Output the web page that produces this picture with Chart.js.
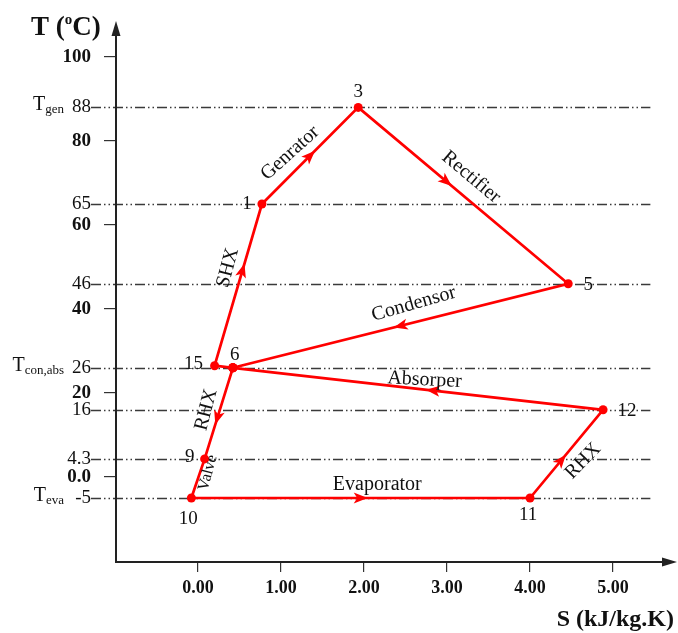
<!DOCTYPE html>
<html>
<head>
<meta charset="utf-8">
<script src="https://cdn.jsdelivr.net/npm/chart.js@4.4.1/dist/chart.umd.min.js"></script>
<style>
html,body{margin:0;padding:0;background:#fff;}
canvas{display:block;}
</style>
</head>
<body>
<canvas id="c" width="678" height="633"></canvas>
<script>
// ---- data ----
const stateNames  = ['15', '1', '3', '5', '6', '9', '10', '11', '12'];
const entropy     = [0.20, 0.77, 1.93, 4.46, 0.42, 0.08, -0.08, 4.00, 4.88];
const temperature = [26.5, 65, 88, 46, 26, 4.3, -5, -5, 16];

const highCycle = ['6', '15', '1', '3', '5', '6'];
const lowCycle  = ['6', '9', '10', '11', '12', '6'];

const yTickValues = [100, 88, 80, 65, 60, 46, 40, 26, 20, 16, 4.3, 0, -5];
const yTickLabels = ['100', '88', '80', '65', '60', '46', '40', '26', '20', '16', '4.3', '0.0', '-5'];
const levelValues = [88, 65, 46, 26, 16, 4.3, -5];
const xTickValues = [0, 1, 2, 3, 4, 5];
const xTickLabels = ['0.00', '1.00', '2.00', '3.00', '4.00', '5.00'];

const processNames = ['Genrator', 'Rectifier', 'Condensor', 'Absorper', 'Evaporator', 'RHX', 'SHX', 'RHX', 'Valve'];
const processS     = [1.11, 3.29, 2.60, 2.73, 2.16, 4.64, 0.36, 0.10, 0.12];
const processT     = [77.1, 71.4, 41.2, 23.1, -1.9, 3.8, 49.8, 16.0, 1.0];

const arrowFrom = ['1', '3', '5', '12', '10', '11', '15', '6'];
const arrowTo   = ['3', '5', '6', '6', '11', '12', '1', '9'];
const arrowAt   = [0.5, 0.42, 0.5, 0.46, 0.5, 0.43, 0.59, 0.55];

// ---- styles ----
const RED = '#ff0000';
const INK = '#111';
const SERIF = '"Liberation Serif", "DejaVu Serif", serif';
const boldTicks = new Set([100, 80, 60, 40, 20, 0]);
const levelPrefix = { '88': 'gen', '26': 'con,abs', '-5': 'eva' };
const stateLabelOffset = {
  '3': [0, -15], '1': [-15, 0], '5': [20, 1], '15': [-21, -2], '6': [2, -13],
  '12': [24, 1], '9': [-15, -2], '10': [-3, 21], '11': [-2, 17]
};
const processStyle = [
  { rot: -42, size: 20 }, { rot: 40, size: 20 }, { rot: -16, size: 20 }, { rot: 3, size: 20 },
  { rot: 0, size: 20 }, { rot: -46, size: 20 }, { rot: -75, size: 20 }, { rot: -75, size: 20 },
  { rot: -75, size: 16 }
];

function pt(name) {
  const i = stateNames.indexOf(name);
  return { x: entropy[i], y: temperature[i] };
}

const decor = {
  id: 'decor',
  beforeDraw(chart) {
    const c = chart.ctx;
    c.save();
    c.fillStyle = '#fff';
    c.fillRect(0, 0, chart.width, chart.height);
    c.restore();
  },
  beforeDatasetsDraw(chart) {
    const c = chart.ctx, xs = chart.scales.x, ys = chart.scales.y;
    const a = chart.chartArea;
    c.save();
    c.strokeStyle = '#3a3a3a';
    c.lineWidth = 1.3;
    c.setLineDash([10, 3, 1.5, 3, 1.5, 3]);
    levelValues.forEach(v => {
      const y = Math.round(ys.getPixelForValue(v)) + 0.5;
      c.beginPath();
      c.moveTo(a.left - 25, y);
      c.lineTo(xs.getPixelForValue(5.45), y);
      c.stroke();
    });
    c.restore();
  },
  afterDatasetsDraw(chart) {
    const c = chart.ctx, xs = chart.scales.x, ys = chart.scales.y;
    c.save();
    // arrows along segments
    c.fillStyle = RED;
    arrowFrom.forEach((f, i) => {
      const p = pt(f), q = pt(arrowTo[i]);
      const x1 = xs.getPixelForValue(p.x), y1 = ys.getPixelForValue(p.y);
      const x2 = xs.getPixelForValue(q.x), y2 = ys.getPixelForValue(q.y);
      const t = arrowAt[i];
      const mx = x1 + (x2 - x1) * t, my = y1 + (y2 - y1) * t;
      const ang = Math.atan2(y2 - y1, x2 - x1);
      c.save();
      c.translate(mx, my);
      c.rotate(ang);
      c.beginPath();
      c.moveTo(7, 0);
      c.lineTo(-7, -5.5);
      c.lineTo(-3.5, 0);
      c.lineTo(-7, 5.5);
      c.closePath();
      c.fill();
      c.restore();
    });
    // state labels
    c.fillStyle = INK;
    c.font = '19px ' + SERIF;
    c.textAlign = 'center';
    c.textBaseline = 'middle';
    stateNames.forEach((n, i) => {
      const o = stateLabelOffset[n];
      c.fillText(n, xs.getPixelForValue(entropy[i]) + o[0], ys.getPixelForValue(temperature[i]) + o[1]);
    });
    // process labels
    processNames.forEach((n, i) => {
      const s = processStyle[i];
      c.save();
      c.translate(xs.getPixelForValue(processS[i]), ys.getPixelForValue(processT[i]));
      c.rotate(s.rot * Math.PI / 180);
      c.font = s.size + 'px ' + SERIF;
      c.fillText(n, 0, 0);
      c.restore();
    });
    c.restore();
  },
  afterDraw(chart) {
    const c = chart.ctx, ys = chart.scales.y;
    const a = chart.chartArea;
    c.save();
    c.strokeStyle = '#222';
    c.fillStyle = '#222';
    c.lineWidth = 2;
    // y axis
    c.beginPath();
    c.moveTo(a.left, a.bottom + 1);
    c.lineTo(a.left, 30);
    c.stroke();
    c.beginPath();
    c.moveTo(a.left, 21);
    c.lineTo(a.left - 4.5, 36);
    c.lineTo(a.left + 4.5, 36);
    c.closePath();
    c.fill();
    // x axis
    c.beginPath();
    c.moveTo(a.left - 1, a.bottom);
    c.lineTo(668, a.bottom);
    c.stroke();
    c.beginPath();
    c.moveTo(677, a.bottom);
    c.lineTo(662, a.bottom - 4.5);
    c.lineTo(662, a.bottom + 4.5);
    c.closePath();
    c.fill();

    // level prefixes T_gen etc.
    c.fillStyle = INK;
    c.textBaseline = 'alphabetic';
    Object.keys(levelPrefix).forEach(k => {
      const y = ys.getPixelForValue(parseFloat(k));
      const sub = levelPrefix[k];
      c.font = '13px ' + SERIF;
      c.textAlign = 'right';
      const right = 64;
      c.fillText(sub, right, y + 6);
      const w = c.measureText(sub).width;
      c.font = '20px ' + SERIF;
      c.fillText('T', right - w, y + 3);
    });

    // axis titles
    c.font = 'bold 27px ' + SERIF;
    c.textAlign = 'left';
    let x = 31;
    const by = 35;
    c.fillText('T (', x, by);
    x += c.measureText('T (').width;
    c.font = 'bold 15px ' + SERIF;
    c.fillText('o', x, by - 11);
    x += c.measureText('o').width;
    c.font = 'bold 27px ' + SERIF;
    c.fillText('C)', x, by);

    c.font = 'bold 24px ' + SERIF;
    c.textAlign = 'right';
    c.fillText('S (kJ/kg.K)', 674, 626);
    c.restore();
  }
};

const mkData = names => names.map(pt);

new Chart(document.getElementById('c'), {
  type: 'scatter',
  data: {
    datasets: [
      { data: mkData(highCycle), showLine: true, borderColor: RED, borderWidth: 2.7,
        pointRadius: 4.5, pointBackgroundColor: RED, pointBorderWidth: 0, tension: 0 },
      { data: mkData(lowCycle), showLine: true, borderColor: RED, borderWidth: 2.7,
        pointRadius: 4.5, pointBackgroundColor: RED, pointBorderWidth: 0, tension: 0 }
    ]
  },
  options: {
    responsive: false,
    animation: false,
    devicePixelRatio: 1,
    layout: { padding: { top: 30, right: 16, left: 0, bottom: 0 } },
    plugins: { legend: { display: false }, tooltip: { enabled: false } },
    scales: {
      x: {
        type: 'linear',
        min: -0.988,
        max: 5.59,
        afterFit: s => { s.height = 71; },
        afterBuildTicks: s => { s.ticks = xTickValues.map(v => ({ value: v })); },
        border: { display: false },
        grid: { drawOnChartArea: false, drawTicks: true, tickLength: 10, color: '#333', tickColor: '#333', lineWidth: 1.2 },
        ticks: {
          autoSkip: false, maxRotation: 0, padding: 6, color: INK,
          font: { family: SERIF, size: 18, weight: 'bold' },
          callback: (v, i) => xTickLabels[i]
        }
      },
      y: {
        type: 'linear',
        min: -20.24,
        max: 106.43,
        afterFit: s => { s.width = 116; },
        afterBuildTicks: s => { s.ticks = yTickValues.map(v => ({ value: v })); },
        border: { display: false },
        grid: {
          drawOnChartArea: false, drawTicks: true, tickLength: 12, lineWidth: 1.2,
          color: '#333',
          tickColor: ctx => (ctx.tick && boldTicks.has(ctx.tick.value)) ? '#333' : 'rgba(0,0,0,0)'
        },
        ticks: {
          autoSkip: false, padding: 13, color: INK,
          font: ctx => ({ family: SERIF, size: 19,
            weight: (ctx.tick && boldTicks.has(ctx.tick.value)) ? 'bold' : 'normal' }),
          callback: (v, i) => yTickLabels[i]
        }
      }
    }
  },
  plugins: [decor]
});
</script>
</body>
</html>
